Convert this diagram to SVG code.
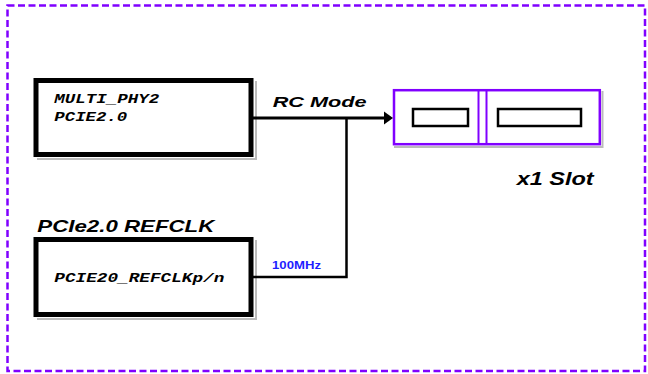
<svg xmlns="http://www.w3.org/2000/svg" width="648" height="374" viewBox="0 0 648 374">
<style>
.mono{font-family:"Liberation Mono","Courier New",monospace;font-weight:bold;font-style:italic;font-size:13px;fill:#000}
.sans{font-family:"Liberation Sans",Arial,sans-serif;font-weight:bold;font-style:italic;fill:#000}
.blk{fill:#fff;stroke:#000;stroke-width:5}
.shadow{fill:none;stroke:#bbb;stroke-width:2}
.pur{fill:#fff;stroke:#8000ff;stroke-width:2.5}
.inner{fill:#fff;stroke:#000;stroke-width:2.5}
.wire{fill:none;stroke:#000;stroke-width:2.5}
</style>
<rect x="7.5" y="5.5" width="637.5" height="365.5" fill="none" stroke="#8000ff" stroke-width="2.5" stroke-dasharray="7,3.5"/>
<g id="phy">
<path class="shadow" d="M256 81 V159 H37"/>
<rect class="blk" x="36" y="80.5" width="215" height="74"/>
<text class="mono" x="54.3" y="103.3" textLength="105" lengthAdjust="spacingAndGlyphs">MULTI_PHY2</text>
<text class="mono" x="54.3" y="121" textLength="73" lengthAdjust="spacingAndGlyphs">PCIE2.0</text>
</g>
<g id="refclk">
<text class="sans" x="37.3" y="231.7" font-size="17" textLength="177" lengthAdjust="spacingAndGlyphs">PCIe2.0 REFCLK</text>
<path class="shadow" d="M256 240 V319 H37"/>
<rect class="blk" x="36" y="239.5" width="215" height="75"/>
<text class="mono" x="54.3" y="282.3" textLength="170" lengthAdjust="spacingAndGlyphs">PCIE20_REFCLKp/n</text>
</g>
<g id="slot">
<path class="shadow" d="M602.5 91 V147 H394"/>
<rect class="pur" x="394" y="90.2" width="205.8" height="54"/>
<line x1="478.5" y1="90.2" x2="478.5" y2="144.2" stroke="#8000ff" stroke-width="2"/>
<line x1="486.5" y1="90.2" x2="486.5" y2="144.2" stroke="#8000ff" stroke-width="2"/>
<rect class="inner" x="413" y="109" width="55" height="17"/>
<rect class="inner" x="498" y="109" width="83" height="17"/>
<text class="sans" x="516.7" y="185" font-size="18" textLength="77" lengthAdjust="spacingAndGlyphs">x1 Slot</text>
</g>
<g id="connectors">
<line x1="253" y1="118" x2="386" y2="118" stroke="#000" stroke-width="3"/>
<polygon points="384,111.5 393,118 384,124.5" fill="#000"/>
<text class="sans" x="272.7" y="107.3" font-size="15" textLength="94" lengthAdjust="spacingAndGlyphs">RC Mode</text>
<path class="wire" d="M346.5 118 V277 H253"/>
<text x="272" y="269.3" font-family="Liberation Sans, Arial, sans-serif" font-weight="bold" font-size="10" fill="#1e1eff" textLength="49" lengthAdjust="spacingAndGlyphs">100MHz</text>
</g>
</svg>
